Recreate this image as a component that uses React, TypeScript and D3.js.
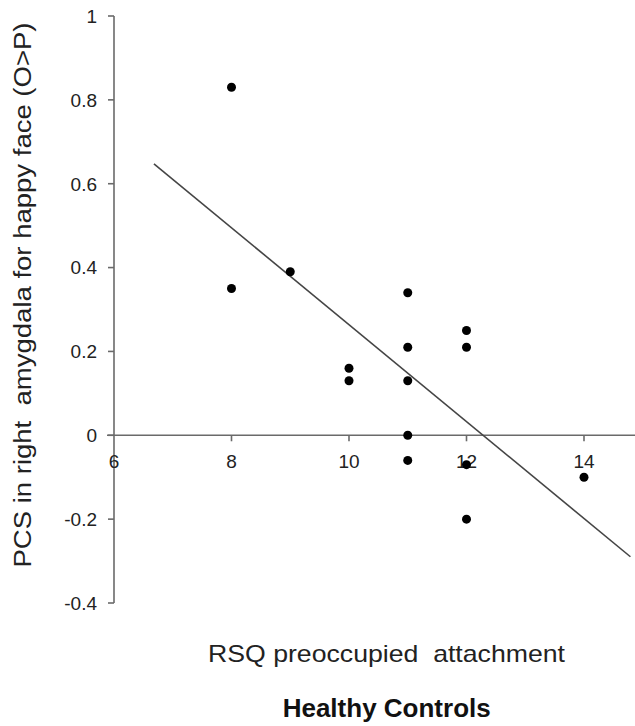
import React from "react";
import * as d3 from "d3";

const xValues = [8, 8, 9, 10, 10, 11, 11, 11, 11, 11, 12, 12, 12, 12, 14];
const yValues = [0.83, 0.35, 0.39, 0.16, 0.13, 0.34, 0.21, 0.13, 0, -0.06, 0.25, 0.21, -0.07, -0.2, -0.1];
const xTicks = [6, 8, 10, 12, 14];
const yTicks = [-0.4, -0.2, 0, 0.2, 0.4, 0.6, 0.8, 1];
const xDomain = [6, 15];
const yDomain = [-0.4, 1];
const fitExtent = [6.68, 14.79];
const xTitle = "RSQ preoccupied\u00a0 attachment";
const yTitle = "PCS in right\u00a0 amygdala for happy face (O>P)";
const chartTitle = "Healthy Controls";

const W = 635;
const H = 726;
const FONT = "'Liberation Sans', Arial, sans-serif";

export default function App() {
  const x = d3.scaleLinear().domain(xDomain).range([114, 642.75]);
  const y = d3.scaleLinear().domain(yDomain).range([603, 16]);

  const mx = d3.mean(xValues)!;
  const my = d3.mean(yValues)!;
  let sxy = 0;
  let sxx = 0;
  xValues.forEach((v, i) => {
    sxy += (v - mx) * (yValues[i] - my);
    sxx += (v - mx) * (v - mx);
  });
  const slope = sxy / sxx;
  const intercept = my - slope * mx;
  const fit = fitExtent.map((v) => [v, intercept + slope * v] as [number, number]);
  const lineGen = d3
    .line<[number, number]>()
    .x((d) => x(d[0]))
    .y((d) => y(d[1]));

  const axisColor = "#6a6a6a";
  const textColor = "#222";
  const y0 = y(0);
  const xAxisX = x(6);

  return (
    <svg
      width={W}
      height={H}
      style={{ position: "absolute", left: 0, top: 0, background: "#fff" }}
      fontFamily={FONT}
    >
      <rect width={W} height={H} fill="#fff" />
      {/* y axis */}
      <line x1={xAxisX} x2={xAxisX} y1={y(1)} y2={y(-0.4)} stroke={axisColor} strokeWidth={1.6} />
      {yTicks.map((t) => (
        <g key={"yt" + t}>
          <line x1={xAxisX - 6} x2={xAxisX} y1={y(t)} y2={y(t)} stroke={axisColor} strokeWidth={1.6} />
          <text
            x={97}
            y={y(t)}
            dy="0.36em"
            textAnchor="end"
            fontSize={19}
            fill={textColor}
          >
            {String(t)}
          </text>
        </g>
      ))}
      {/* x axis */}
      <line x1={xAxisX - 7} x2={W} y1={y0} y2={y0} stroke={axisColor} strokeWidth={1.6} />
      {xTicks.map((t) => (
        <g key={"xt" + t}>
          {t !== 6 && (
            <line x1={x(t)} x2={x(t)} y1={y0} y2={y0 + 6} stroke={axisColor} strokeWidth={1.6} />
          )}
          <text x={x(t)} y={468} textAnchor="middle" fontSize={19} fill={textColor}>
            {String(t)}
          </text>
        </g>
      ))}
      {/* fit line */}
      <path d={lineGen(fit) || ""} fill="none" stroke="#454545" strokeWidth={1.6} />
      {/* points */}
      {xValues.map((v, i) => (
        <circle key={"p" + i} cx={x(v)} cy={y(yValues[i])} r={4.5} fill="#000" />
      ))}
      {/* titles */}
      <text
        transform={`translate(31, 295) rotate(-90)`}
        textAnchor="middle"
        fontSize={23}
        fill={textColor}
        textLength={545}
        lengthAdjust="spacingAndGlyphs"
      >
        {yTitle}
      </text>
      <text
        x={386.5}
        y={662}
        textAnchor="middle"
        fontSize={24}
        fill={textColor}
        textLength={357}
        lengthAdjust="spacingAndGlyphs"
      >
        {xTitle}
      </text>
      <text
        x={386.7}
        y={717}
        textAnchor="middle"
        fontSize={26}
        fontWeight="bold"
        fill="#111"
      >
        {chartTitle}
      </text>
    </svg>
  );
}
